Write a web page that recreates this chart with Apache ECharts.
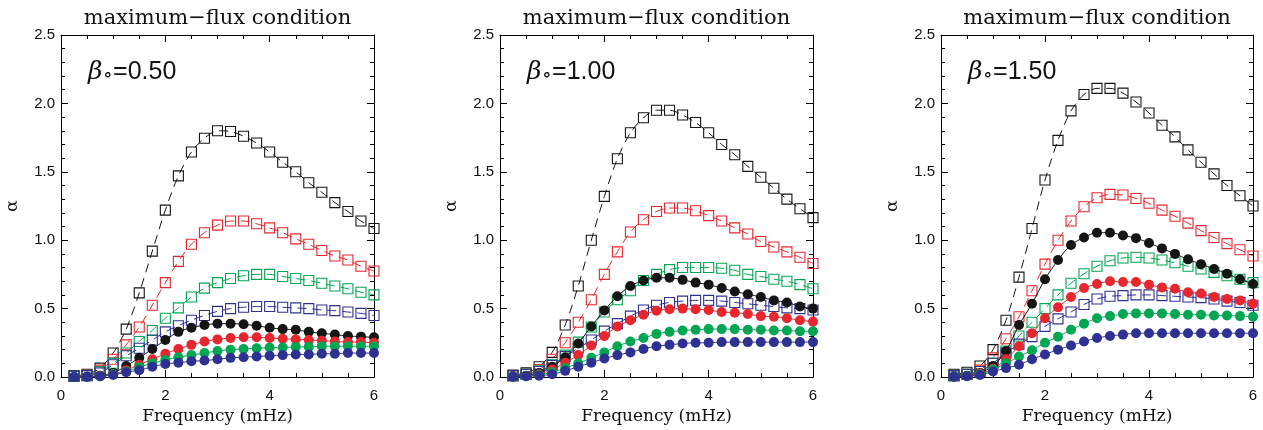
<!DOCTYPE html>
<html>
<head>
<meta charset="utf-8">
<script src="https://cdn.jsdelivr.net/npm/echarts@6/dist/echarts.min.js"></script>
<style>
html,body{margin:0;padding:0;background:#fff;}
#chart{width:1263px;height:430px;}
</style>
</head>
<body>
<div id="chart"></div>
<script>
// ---------- data ----------
const freq = [0.25,0.5,0.75,1.0,1.25,1.5,1.75,2.0,2.25,2.5,2.75,3.0,3.25,3.5,3.75,4.0,4.25,4.5,4.75,5.0,5.25,5.5,5.75,6.0];
const xTicks = [0,2,4,6];
const yTicks = [0.0,0.5,1.0,1.5,2.0,2.5];
const titleText = 'maximum\u2212flux condition';
const xAxisName = 'Frequency (mHz)';
const yAxisName = '\u03b1';
const betaLabels = ['0.50','1.00','1.50'];

// panel 1 (beta0 = 0.50)
const p1SqBlack = [0.01,0.02,0.065,0.175,0.35,0.615,0.92,1.22,1.47,1.645,1.745,1.80,1.795,1.76,1.71,1.645,1.57,1.50,1.42,1.35,1.275,1.21,1.14,1.085];
const p1SqRed   = [0.005,0.012,0.05,0.13,0.235,0.365,0.525,0.69,0.845,0.97,1.055,1.11,1.14,1.14,1.12,1.09,1.055,1.01,0.97,0.925,0.885,0.855,0.81,0.775];
const p1SqGreen = [0.005,0.01,0.04,0.10,0.175,0.26,0.34,0.43,0.505,0.585,0.65,0.69,0.72,0.74,0.75,0.75,0.735,0.72,0.705,0.685,0.665,0.645,0.62,0.60];
const p1SqBlue  = [0.005,0.01,0.03,0.09,0.155,0.21,0.27,0.33,0.375,0.415,0.45,0.48,0.50,0.51,0.515,0.515,0.51,0.505,0.50,0.49,0.485,0.475,0.465,0.45];
const p1CiBlack = [0.0,0.002,0.01,0.03,0.08,0.14,0.205,0.27,0.33,0.36,0.38,0.39,0.39,0.385,0.375,0.36,0.35,0.345,0.33,0.32,0.31,0.30,0.295,0.29];
const p1CiRed   = [0.0,0.002,0.008,0.02,0.05,0.09,0.13,0.17,0.205,0.235,0.26,0.275,0.285,0.29,0.29,0.285,0.28,0.275,0.27,0.265,0.26,0.255,0.255,0.25];
const p1CiGreen = [0.0,0.002,0.006,0.02,0.04,0.072,0.10,0.125,0.145,0.16,0.175,0.19,0.20,0.205,0.21,0.215,0.215,0.22,0.22,0.225,0.225,0.225,0.225,0.225];
const p1CiBlue  = [0.0,0.002,0.005,0.015,0.035,0.05,0.075,0.095,0.105,0.115,0.12,0.13,0.14,0.145,0.15,0.155,0.16,0.165,0.165,0.17,0.17,0.175,0.175,0.175];

// panel 2 (beta0 = 1.00)
const p2SqBlack = [0.015,0.03,0.075,0.18,0.38,0.665,1.0,1.32,1.595,1.785,1.895,1.95,1.95,1.915,1.86,1.785,1.70,1.625,1.54,1.46,1.38,1.30,1.23,1.165];
const p2SqRed   = [0.01,0.02,0.055,0.13,0.25,0.40,0.565,0.75,0.915,1.06,1.15,1.21,1.235,1.235,1.215,1.18,1.14,1.09,1.045,0.99,0.95,0.915,0.875,0.83];
const p2SqGreen = [0.01,0.02,0.045,0.09,0.16,0.255,0.365,0.475,0.565,0.63,0.705,0.75,0.785,0.80,0.80,0.80,0.795,0.78,0.75,0.735,0.715,0.70,0.675,0.645];
const p2SqBlue  = [0.01,0.02,0.04,0.085,0.15,0.21,0.27,0.335,0.39,0.445,0.49,0.525,0.545,0.555,0.56,0.56,0.555,0.545,0.535,0.525,0.515,0.505,0.50,0.49];
const p2CiBlack = [0.005,0.01,0.03,0.075,0.145,0.245,0.37,0.487,0.59,0.665,0.705,0.725,0.725,0.71,0.69,0.675,0.65,0.625,0.605,0.585,0.56,0.545,0.515,0.50];
const p2CiRed   = [0.003,0.008,0.02,0.055,0.105,0.16,0.23,0.30,0.37,0.415,0.455,0.485,0.495,0.50,0.495,0.49,0.475,0.47,0.46,0.445,0.44,0.43,0.415,0.405];
const p2CiGreen = [0.002,0.006,0.015,0.035,0.065,0.10,0.14,0.18,0.225,0.26,0.285,0.315,0.33,0.34,0.345,0.35,0.35,0.35,0.345,0.345,0.34,0.34,0.335,0.335];
const p2CiBlue  = [0.002,0.005,0.01,0.02,0.045,0.075,0.105,0.135,0.16,0.18,0.205,0.225,0.235,0.245,0.25,0.25,0.255,0.255,0.255,0.255,0.255,0.255,0.255,0.255];

// panel 3 (beta0 = 1.50)
const p3SqBlack = [0.02,0.035,0.08,0.20,0.415,0.73,1.085,1.44,1.73,1.945,2.065,2.11,2.11,2.075,2.01,1.93,1.84,1.755,1.66,1.57,1.485,1.40,1.325,1.25];
const p3SqRed   = [0.01,0.02,0.05,0.14,0.28,0.44,0.63,0.825,1.0,1.14,1.245,1.31,1.335,1.33,1.305,1.27,1.22,1.175,1.125,1.07,1.02,0.975,0.93,0.885];
const p3SqGreen = [0.01,0.02,0.04,0.10,0.19,0.30,0.40,0.50,0.60,0.685,0.755,0.81,0.85,0.87,0.875,0.87,0.855,0.835,0.81,0.79,0.765,0.74,0.715,0.69];
const p3SqBlue  = [0.01,0.02,0.04,0.10,0.175,0.24,0.295,0.37,0.425,0.475,0.53,0.57,0.59,0.595,0.60,0.60,0.595,0.59,0.585,0.58,0.57,0.555,0.545,0.525];
const p3CiBlack = [0.005,0.01,0.03,0.08,0.19,0.38,0.535,0.715,0.855,0.965,1.02,1.055,1.055,1.035,1.015,0.98,0.94,0.90,0.86,0.825,0.79,0.755,0.715,0.68];
const p3CiRed   = [0.003,0.008,0.025,0.06,0.13,0.225,0.32,0.43,0.51,0.585,0.65,0.68,0.70,0.695,0.695,0.675,0.655,0.645,0.62,0.61,0.585,0.57,0.56,0.535];
const p3CiGreen = [0.003,0.008,0.02,0.055,0.10,0.15,0.195,0.25,0.295,0.345,0.39,0.43,0.445,0.46,0.465,0.465,0.465,0.46,0.455,0.455,0.45,0.45,0.445,0.44];
const p3CiBlue  = [0.002,0.006,0.015,0.04,0.065,0.09,0.13,0.165,0.20,0.23,0.26,0.285,0.30,0.31,0.32,0.32,0.32,0.32,0.32,0.32,0.32,0.32,0.32,0.32];

// ---------- styling ----------
const COLORS = {black:'#151515', red:'#e8262e', green:'#00a651', blue:'#2e3192'};
const grids = [
  {left:61, top:35, width:313, height:346},
  {left:500, top:35, width:313, height:346},
  {left:941, top:35, width:312, height:346}
];
const panels = [
  {sq:[p1SqBlack,p1SqRed,p1SqGreen,p1SqBlue], ci:[p1CiBlack,p1CiRed,p1CiGreen,p1CiBlue]},
  {sq:[p2SqBlack,p2SqRed,p2SqGreen,p2SqBlue], ci:[p2CiBlack,p2CiRed,p2CiGreen,p2CiBlue]},
  {sq:[p3SqBlack,p3SqRed,p3SqGreen,p3SqBlue], ci:[p3CiBlack,p3CiRed,p3CiGreen,p3CiBlue]}
];
const colOrder = ['black','red','green','blue'];

const lineAxis = {show:true, onZero:false, lineStyle:{color:'#000', width:1}};
const tick = {show:true, inside:true, length:7, lineStyle:{color:'#000', width:1}};
const labelFont = {color:'#111', fontSize:15, fontFamily:'Liberation Sans'};

const xAxes = [], yAxes = [], series = [], graphics = [];
grids.forEach((g, i) => {
  xAxes.push({
    type:'value', gridIndex:i, position:'bottom', min:xTicks[0], max:xTicks[xTicks.length-1], interval:xTicks[1]-xTicks[0],
    axisLine:lineAxis, axisTick:tick,
    minorTick:{show:true, splitNumber:4, length:4, lineStyle:{color:'#000', width:1}},
    splitLine:{show:false},
    axisLabel:Object.assign({margin:11, formatter:v => String(v)}, labelFont),
    name:xAxisName, nameLocation:'middle', nameGap:31,
    nameTextStyle:{fontFamily:'DejaVu Serif', fontSize:17, color:'#111'}
  });
  xAxes.push({
    type:'value', gridIndex:i, position:'top', min:xTicks[0], max:xTicks[xTicks.length-1], interval:xTicks[1]-xTicks[0],
    axisLine:lineAxis, axisTick:tick,
    minorTick:{show:true, splitNumber:4, length:4, lineStyle:{color:'#000', width:1}},
    splitLine:{show:false}, axisLabel:{show:false}
  });
  yAxes.push({
    type:'value', gridIndex:i, position:'left', min:yTicks[0], max:yTicks[yTicks.length-1], interval:yTicks[1]-yTicks[0],
    axisLine:lineAxis, axisTick:tick,
    minorTick:{show:true, splitNumber:5, length:4, lineStyle:{color:'#000', width:1}},
    splitLine:{show:false},
    axisLabel:Object.assign({margin:6, formatter:v => v.toFixed(1)}, labelFont),
    name:yAxisName, nameLocation:'middle', nameGap:40, nameRotate:90,
    nameTextStyle:{fontFamily:'DejaVu Serif', fontSize:17, color:'#111'}
  });
  yAxes.push({
    type:'value', gridIndex:i, position:'right', min:yTicks[0], max:yTicks[yTicks.length-1], interval:yTicks[1]-yTicks[0],
    axisLine:lineAxis, axisTick:tick,
    minorTick:{show:true, splitNumber:5, length:4, lineStyle:{color:'#000', width:1}},
    splitLine:{show:false}, axisLabel:{show:false}
  });
  const xi = i*2, yi = i*2;
  panels[i].sq.forEach((arr, k) => {
    const c = COLORS[colOrder[k]];
    series.push({
      type:'line', xAxisIndex:xi, yAxisIndex:yi, smooth:0.3, clip:true,
      data:freq.map((f, j) => [f, arr[j]]),
      symbol:'rect', symbolSize:10, showSymbol:true,
      itemStyle:{color:'rgba(0,0,0,0)', borderColor:c, borderWidth:1.1},
      lineStyle:{color:c, width:1, type:[9,6]},
      emphasis:{disabled:true}, animation:false, z:2
    });
  });
  panels[i].ci.forEach((arr, k) => {
    const c = COLORS[colOrder[k]];
    series.push({
      type:'line', xAxisIndex:xi, yAxisIndex:yi, smooth:0.3, clip:true,
      data:freq.map((f, j) => [f, arr[j]]),
      symbol:'circle', symbolSize:10, showSymbol:true,
      itemStyle:{color:c, borderWidth:0},
      lineStyle:{color:c, width:1},
      emphasis:{disabled:true}, animation:false, z:3
    });
  });
  graphics.push({
    type:'text', x:g.left + g.width/2, y:19,
    style:{text:titleText, align:'center', verticalAlign:'middle', fill:'#111',
      font:'21px "DejaVu Serif"'}
  });
  graphics.push({
    type:'text', x:g.left + 27, y:72,
    style:{
      text:'{b|\u03b2}{s|\u2218}{n|=' + betaLabels[i] + '}',
      verticalAlign:'middle', align:'left',
      rich:{
        b:{fontFamily:'DejaVu Serif', fontStyle:'italic', fontSize:25, fill:'#111', verticalAlign:'middle'},
        s:{fontFamily:'DejaVu Sans', fontSize:17, fontWeight:'bold', fill:'#111', verticalAlign:'bottom', padding:[0,0,0,0]},
        n:{fontFamily:'Liberation Sans', fontSize:25, fill:'#111', verticalAlign:'middle'}
      }
    }
  });
});

const chart = echarts.init(document.getElementById('chart'), null, {renderer:'canvas'});
chart.setOption({
  animation:false,
  backgroundColor:'#fff',
  grid:grids,
  xAxis:xAxes,
  yAxis:yAxes,
  series:series,
  graphic:graphics
});
</script>
</body>
</html>
